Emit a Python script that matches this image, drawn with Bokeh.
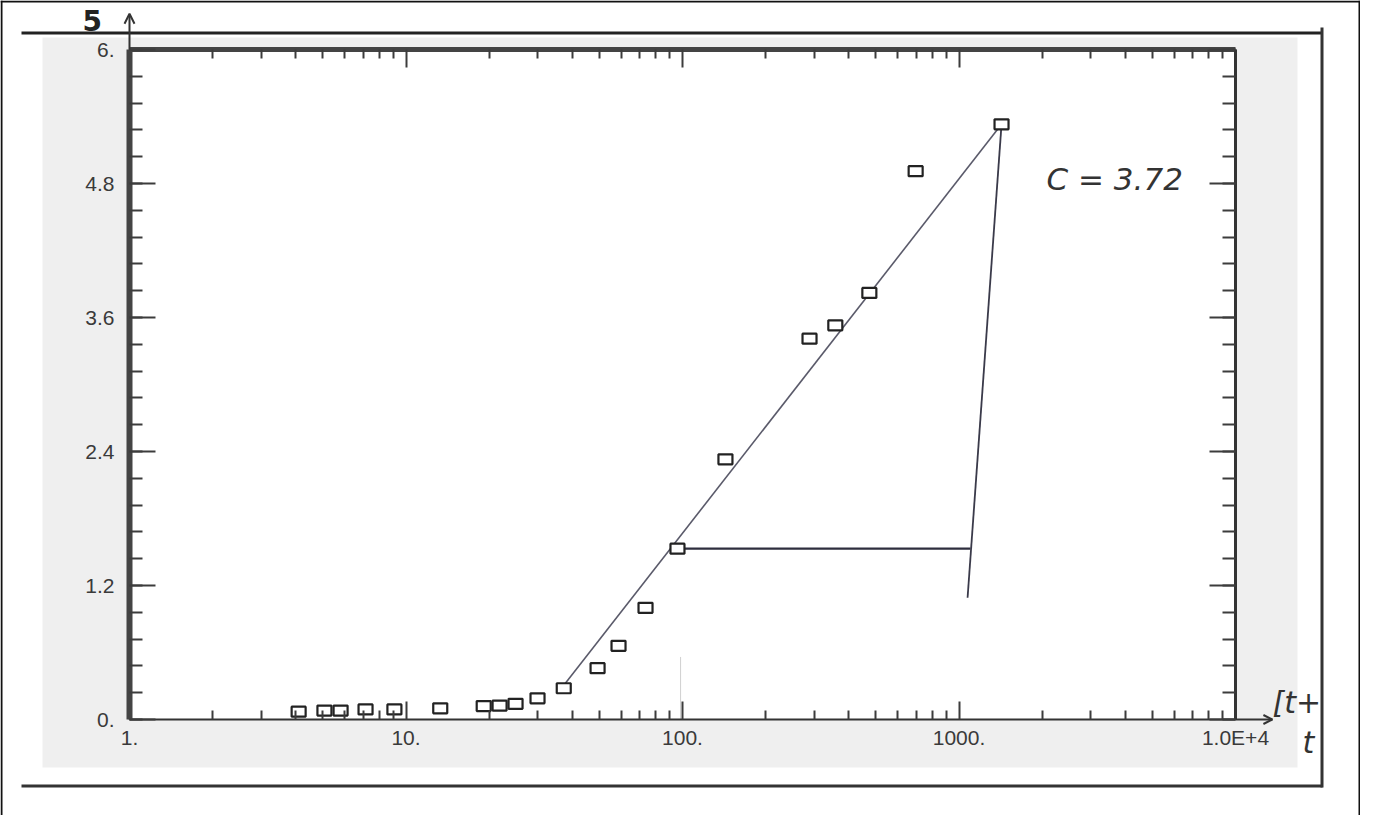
from bokeh.plotting import figure
from bokeh.models import (LogAxis, LinearAxis, FixedTicker, BoxAnnotation, Label,
                          Arrow, OpenHead, Range1d, CustomJSTickFormatter)
from bokeh.embed import file_html
from bokeh.resources import INLINE

# ---- data ----
t_values = [4.09, 5.07, 5.80, 7.14, 9.08, 13.3, 19.1, 21.8, 24.9, 29.9, 37.2,
            49.3, 58.7, 73.5, 95.9, 143, 288, 357, 474, 697, 1425]
s_values = [0.07, 0.08, 0.08, 0.09, 0.09, 0.10, 0.12, 0.125, 0.14, 0.19, 0.28,
            0.46, 0.66, 1.00, 1.53, 2.33, 3.41, 3.53, 3.82, 4.91, 5.33]

fit_t = [36.8, 1425]
fit_s = [0.29, 5.33]
horiz_t = [95.9, 1101]
horiz_s = [1.53, 1.53]
vert_t = [1425, 1074]
vert_s = [5.33, 1.09]
faint_t = [98.4, 98.4]
faint_s = [0.0, 0.56]

x_ticks = [1, 10, 100, 1000, 10000]
x_tick_labels = ["1.", "10.", "100.", "1000.", "1.0E+4"]
x_minor = [m * d for d in [1, 10, 100, 1000] for m in range(2, 10)]
y_ticks = [0, 1.2, 2.4, 3.6, 4.8, 6.0]
y_tick_labels = ["0.", "1.2", "2.4", "3.6", "4.8", "6."]
y_minor = [round(i * 0.24, 2) for i in range(26)]

x_lo, x_hi = 1, 10000
y_lo, y_hi = 0, 6

FONT = "Liberation Sans"
AX = "#3c3c3c"

# layout geometry (pixels): plot box inside the canvas
W, H = 1360, 815
PL, PR, PT, PB = 129, 1235, 49, 719
dec = (PR - PL) / 4.0
unit = (PB - PT) / 6.0

p = figure(width=W, height=H, x_axis_type="log", x_axis_location=None, y_axis_location=None,
           x_range=Range1d(10 ** (-PL / dec), 10 ** (4 + (W - PR) / dec)),
           y_range=Range1d(-(H - PB) / unit, 6 + PT / unit),
           output_backend="svg", toolbar_location=None,
           min_border_left=0, min_border_right=0, min_border_top=0, min_border_bottom=0)
p.outline_line_color = None
p.border_fill_color = "white"
p.background_fill_color = "white"
p.grid.visible = False


def cbox(l, r, t, b, color):
    p.add_layout(BoxAnnotation(left=l, right=r, top=t, bottom=b,
                               left_units="canvas", right_units="canvas",
                               top_units="canvas", bottom_units="canvas",
                               fill_color=color, fill_alpha=1, line_color=None,
                               level="underlay"))


# grey scanned area and white plot box
cbox(42, 1297, 37, 767, "#efefef")
p.add_layout(BoxAnnotation(left=x_lo, right=x_hi, bottom=y_lo, top=y_hi,
                           fill_color="white", fill_alpha=1, line_color=None,
                           level="underlay"))
# page lines
cbox(0, W, 0, 2, "#111")
cbox(0, 2, 0, H, "#111")
cbox(W - 2, W, 0, H, "#111")
cbox(21, 1322, 31, 34, "#222")
cbox(21, 1322, 784, 787, "#333")
cbox(1320, 1323, 27, 787, "#333")

# axes drawn at the edges of the plot box
xt = FixedTicker(ticks=x_ticks, minor_ticks=x_minor)
yt = FixedTicker(ticks=y_ticks, minor_ticks=y_minor)
blank = CustomJSTickFormatter(code="return ''")

common = dict(major_tick_out=0, minor_tick_out=0, major_tick_line_color=AX,
              minor_tick_line_color=AX, major_tick_line_width=2, minor_tick_line_width=2)
label_style = dict(major_label_text_font=FONT, major_label_text_font_size="21px",
                   major_label_text_color="#3a3a3a")

bottom = LogAxis(fixed_location=y_lo, bounds=(x_lo, x_hi), ticker=xt,
                 major_label_overrides={k: v for k, v in zip(x_ticks, x_tick_labels)},
                 axis_line_width=2, axis_line_color="#333",
                 major_tick_in=18, minor_tick_in=9, major_label_standoff=6,
                 **common, **label_style)
left = LinearAxis(fixed_location=x_lo, bounds=(y_lo, y_hi), ticker=yt,
                  major_label_overrides={k: v for k, v in zip(y_ticks, y_tick_labels)},
                  axis_line_width=6, axis_line_color="#444",
                  major_tick_in=26, minor_tick_in=13, major_label_standoff=15,
                  **common, **label_style)
top = LogAxis(fixed_location=y_hi, bounds=(x_lo, x_hi), ticker=xt, formatter=blank,
              axis_line_width=5, axis_line_color="#444",
              major_tick_in=18, minor_tick_in=9, **common)
right = LinearAxis(fixed_location=x_hi, bounds=(y_lo, y_hi), ticker=yt, formatter=blank,
                   axis_line_width=3, axis_line_color="#333",
                   major_tick_in=26, minor_tick_in=13, **common)
p.add_layout(bottom, "below")
p.add_layout(left, "left")
p.add_layout(top, "above")
p.add_layout(right, "right")

# arrows on the axes
p.add_layout(Arrow(x_start=x_lo, y_start=y_hi, x_end=x_lo, y_end=6.32,
                   line_color="#333", line_width=2,
                   end=OpenHead(size=10, line_color="#333", line_width=2)))
p.add_layout(Arrow(x_start=x_hi, y_start=y_lo, x_end=13600, y_end=y_lo,
                   line_color="#333", line_width=2,
                   end=OpenHead(size=9, line_color="#333", line_width=2)))

# lines
p.line(faint_t, faint_s, line_color="#d0d0d0", line_width=1)
p.line(fit_t, fit_s, line_color="#5a5a6a", line_width=1.6)
p.line(horiz_t, horiz_s, line_color="#2e2e3e", line_width=2.2)
p.line(vert_t, vert_s, line_color="#3a3a4a", line_width=1.8)

# data markers
p.rect(t_values, s_values, width=14, height=10, width_units="screen",
       height_units="screen", fill_color="white", line_color="#222",
       line_width=2.2)

# handwritten annotations
hand = dict(text_font="DejaVu Sans", text_font_style="italic", text_color="#333")
p.add_layout(Label(x=1046, y=178, x_units="canvas", y_units="canvas", text="C = 3.72",
                   text_font_size="31px", text_baseline="middle", **hand))
p.add_layout(Label(x=82, y=20, x_units="canvas", y_units="canvas", text="5",
                   text_font_size="28px", text_font_style="bold", text_baseline="middle",
                   text_font="DejaVu Sans", text_color="#222"))
p.add_layout(Label(x=1272, y=702, x_units="canvas", y_units="canvas", text="[t+",
                   text_font_size="30px", text_baseline="middle", **hand))
p.add_layout(Label(x=1302, y=742, x_units="canvas", y_units="canvas", text="t",
                   text_font_size="30px", text_baseline="middle", **hand))

open("out.html", "w").write(file_html(p, INLINE))
